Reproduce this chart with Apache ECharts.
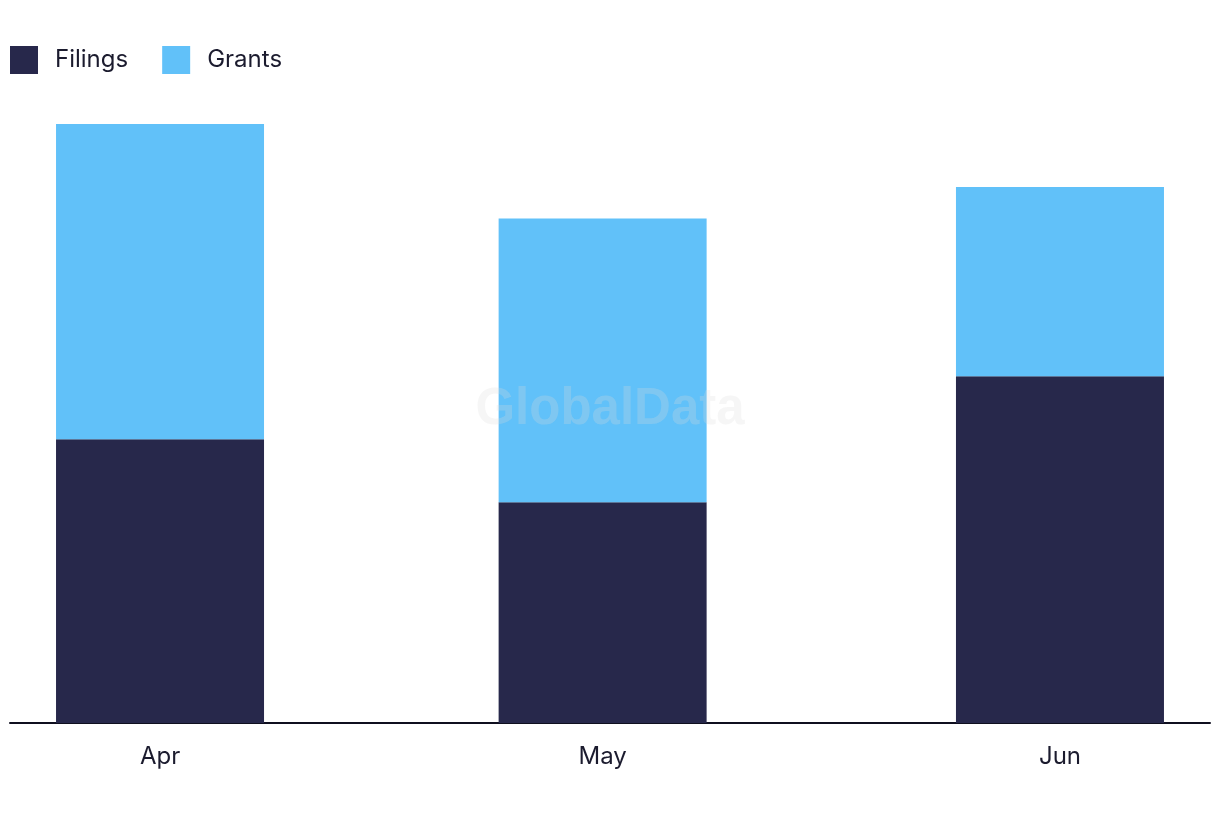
<!DOCTYPE html>
<html>
<head>
<meta charset="utf-8">
<script src="https://cdn.jsdelivr.net/npm/echarts@6/dist/echarts.min.js"></script>
<style>
html,body{margin:0;padding:0;background:#fff;}
#chart{width:1220px;height:822px;}
</style>
</head>
<body>
<div id="chart"></div>
<script>
const months = ['2024-04-01', '2024-05-01', '2024-06-01'];
const monthLabels = ['Apr', 'May', 'Jun'];
const filings = [45, 35, 55];
const grants = [50, 45, 30];

const DAY = 86400000;
const ts = months.map(m => new Date(m + 'T00:00:00Z').getTime());

// layout
const gridW = 1200, barW = 208;
const padDays = 3.12;
const barMin = ts[0] - padDays * DAY;
const barMax = ts[ts.length - 1] + padDays * DAY;
// ECharts widens a bar base axis so the bars fit; mirror that for the label axis
const R = barMax - barMin;
const R2 = R / (1 - barW / gridW);
const mid = (barMin + barMax) / 2;
const lblMin = mid - R2 / 2, lblMax = mid + R2 / 2;

const chart = echarts.init(document.getElementById('chart'));
const fontFamily = 'Inter, "Noto Sans", sans-serif';
chart.setOption({
  animation: false,
  backgroundColor: '#ffffff',
  legend: {
    left: 10, top: 46, padding: 0,
    itemWidth: 28, itemHeight: 28, itemGap: 34,
    icon: 'rect',
    textStyle: { fontSize: 24, color: '#1b1b2e', fontFamily: fontFamily, padding: [0, 0, 0, 12] },
    data: ['Filings', 'Grants']
  },
  grid: { left: 10, right: 10, top: 124, bottom: 99, containLabel: false },
  xAxis: [
    {
      type: 'time',
      min: barMin, max: barMax,
      axisLine: { show: true, onZero: false, lineStyle: { color: '#0f0f1f', width: 2 } },
      axisTick: { show: false },
      axisLabel: { show: false },
      splitLine: { show: false }
    },
    {
      type: 'value',
      position: 'bottom',
      min: lblMin, max: lblMax,
      axisLine: { show: false },
      axisTick: { show: false },
      splitLine: { show: false },
      axisLabel: {
        customValues: ts,
        margin: 22,
        fontSize: 24,
        color: '#1b1b2e',
        fontFamily: fontFamily,
        formatter: function (v) {
          let best = 0;
          ts.forEach((t, i) => { if (Math.abs(t - v) < Math.abs(ts[best] - v)) best = i; });
          return monthLabels[best];
        }
      }
    }
  ],
  yAxis: {
    type: 'value', min: 0, max: 95,
    show: false,
    splitLine: { show: false }
  },
  graphic: [{
    type: 'text',
    left: 'center',
    top: 384,
    z: 100,
    silent: true,
    style: {
      text: 'GlobalData',
      fontSize: 51,
      fontWeight: 'bold',
      fontFamily: 'Liberation Sans, Arial, sans-serif',
      fill: 'rgba(220,220,220,0.25)'
    }
  }],
  series: [
    {
      name: 'Filings', type: 'bar', stack: 'total', barWidth: barW, xAxisIndex: 0,
      itemStyle: { color: '#27284b' },
      data: ts.map((t, i) => [t, filings[i]])
    },
    {
      name: 'Grants', type: 'bar', stack: 'total', barWidth: barW, xAxisIndex: 0,
      itemStyle: { color: '#61c1f9' },
      data: ts.map((t, i) => [t, grants[i]])
    }
  ]
});
</script>
</body>
</html>
